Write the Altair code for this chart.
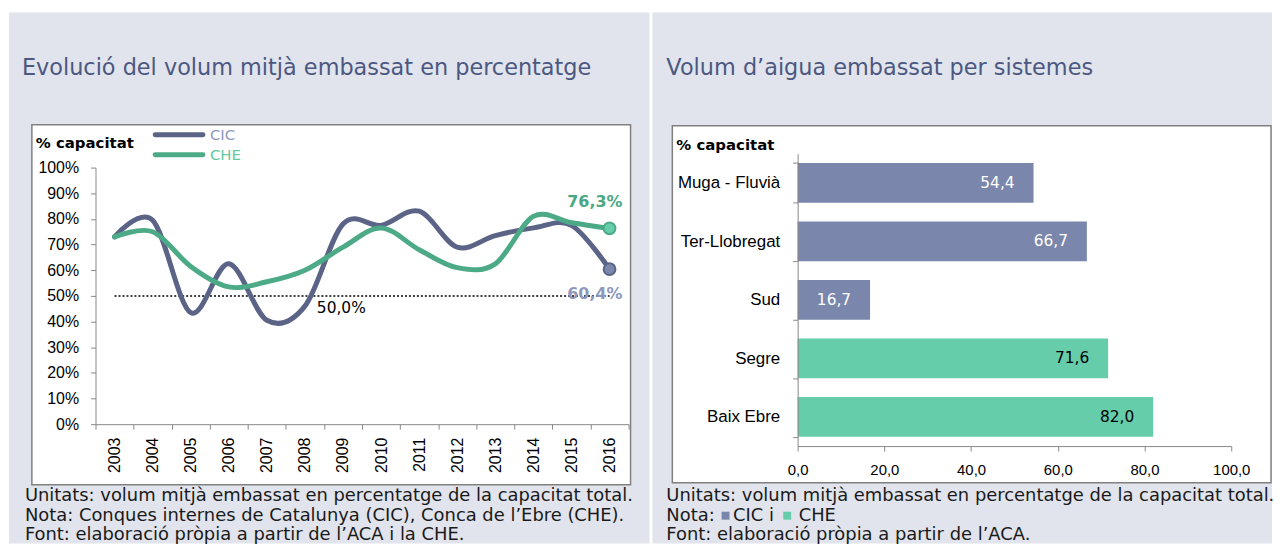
import altair as alt
import pandas as pd

# ---------------- data ----------------
years = [str(y) for y in range(2003, 2017)]
cic = [73, 79.5, 43.5, 62.5, 40.5, 46, 78, 77.5, 83, 69, 73.5, 76.5, 77.5, 60.4]
che = [73, 75, 61.5, 53.5, 55.5, 60, 69, 76.5, 68, 61, 62.5, 81, 78.5, 76.3]
series = ["CIC", "CHE"]
end_values = [60.4, 76.3]
end_labels = ["60,4%", "76,3%"]
ref_years = ["2003", "2016"]
ref_value = 50
ref_label = "50,0%"
y_ticks = list(range(0, 101, 10))

systems = ["Muga - Fluvià", "Ter-Llobregat", "Sud", "Segre", "Baix Ebre"]
sys_values = [54.4, 66.7, 16.7, 71.6, 82.0]
sys_group = ["CIC", "CIC", "CIC", "CHE", "CHE"]
sys_labels = ["54,4", "66,7", "16,7", "71,6", "82,0"]
x_ticks = [0, 20, 40, 60, 80, 100]

# ---------------- styles ----------------
FONT = "DejaVu Sans"
GREY_BG = "#e1e4ec"
BOX_STROKE = "#808080"
TITLE_C = "#4c5881"
CIC_LINE = "#5b6486"
CHE_LINE = "#4caa87"
CIC_BAR = "#7a86ab"
CHE_BAR = "#66cdaa"
AXIS_C = "#868686"
NOTE_C = "#1a1a1a"

one = pd.DataFrame({"k": [0]})


def rect(x1, x2, y1, y2, fill, stroke=None, sw=0):
    kw = dict(fill=fill)
    if stroke:
        kw.update(stroke=stroke, strokeWidth=sw)
    return alt.Chart(one).mark_rect(**kw).encode(
        x=alt.value(x1), x2=alt.value(x2), y=alt.value(y1), y2=alt.value(y2))


def txt(s, x, y, size, color="#000000", weight="normal", align="left",
        baseline="alphabetic"):
    return alt.Chart(one).mark_text(
        text=s, fontSize=size, color=color, fontWeight=weight, align=align,
        baseline=baseline, font=FONT).encode(x=alt.value(x), y=alt.value(y))


# both panels share the same plot origin (page y = 152)
NOTE_Y = [349, 369, 388]
BOTTOM = 392

# ---------------- left panel ----------------
W1, H1 = 536, 272
line_df = pd.DataFrame({"year": years * 2, "value": cic + che,
                        "series": ["CIC"] * len(years) + ["CHE"] * len(years)})
end_df = pd.DataFrame({"year": ["2016", "2016"], "value": end_values,
                       "series": series, "label": end_labels})
ref_df = pd.DataFrame({"year": ref_years, "value": [ref_value] * 2})
ref_lab_df = pd.DataFrame({"year": ["2008"], "value": [ref_value], "label": [ref_label]})

x1 = alt.X("year:O", scale=alt.Scale(type="band", domain=years, paddingInner=0, paddingOuter=0),
           axis=alt.Axis(title=None, labelAngle=-90, tickBand="extent", tickSize=5,
                         labelPadding=8, labelFontSize=16, grid=False, zindex=1))
y1 = alt.Y("value:Q", scale=alt.Scale(domain=[0, 100], range=[H1, 14]),
           axis=alt.Axis(title=None, values=y_ticks, labelExpr="datum.value + '%'",
                         tickSize=5, labelPadding=12, labelFontSize=16, labelFlush=False,
                         grid=False, zindex=1))

left_layers = [
    rect(-87, W1 + 21, -142, BOTTOM, GREY_BG),
    rect(-64, W1 + 2, -29, 333, "#ffffff", BOX_STROKE, 1.5),
    alt.Chart(ref_df).mark_line(color="#000000", strokeWidth=1.5, strokeDash=[2, 2]).encode(x=x1, y=y1),
    alt.Chart(ref_lab_df).mark_text(align="left", baseline="middle", dx=12, dy=12, fontSize=15.5,
                                    font=FONT, color="#000000").encode(x=x1, y=y1, text="label:N"),
    alt.Chart(line_df).transform_filter(alt.datum.series == "CIC").mark_line(
        color=CIC_LINE, strokeWidth=5, interpolate="cardinal", tension=0, strokeCap="round",
        strokeJoin="round").encode(x=x1, y=y1),
    alt.Chart(line_df).transform_filter(alt.datum.series == "CHE").mark_line(
        color=CHE_LINE, strokeWidth=5, interpolate="cardinal", tension=0, strokeCap="round",
        strokeJoin="round").encode(x=x1, y=y1),
    alt.Chart(end_df).transform_filter(alt.datum.series == "CIC").mark_point(
        filled=True, size=140, color=CIC_BAR, stroke=CIC_LINE, strokeWidth=2, opacity=1).encode(x=x1, y=y1),
    alt.Chart(end_df).transform_filter(alt.datum.series == "CHE").mark_point(
        filled=True, size=140, color=CHE_BAR, stroke=CHE_LINE, strokeWidth=2, opacity=1).encode(x=x1, y=y1),
    alt.Chart(end_df).transform_filter(alt.datum.series == "CIC").mark_text(
        align="right", baseline="middle", dx=13, dy=25, fontSize=16, fontWeight="bold",
        font=FONT, color="#8e98bc").encode(x=x1, y=y1, text="label:N"),
    alt.Chart(end_df).transform_filter(alt.datum.series == "CHE").mark_text(
        align="right", baseline="middle", dx=13, dy=-27, fontSize=16, fontWeight="bold",
        font=FONT, color="#4aa884").encode(x=x1, y=y1, text="label:N"),
    # legend
    alt.Chart(one).mark_rule(color=CIC_LINE, strokeWidth=5, strokeCap="round").encode(
        x=alt.value(60), x2=alt.value(108), y=alt.value(-19)),
    alt.Chart(one).mark_rule(color=CHE_LINE, strokeWidth=5, strokeCap="round").encode(
        x=alt.value(60), x2=alt.value(108), y=alt.value(1)),
    txt("CIC", 115, -19, 15, "#8e98bc", baseline="middle"),
    txt("CHE", 115, 1, 15, "#5fc9a0", baseline="middle"),
    txt("% capacitat", -60, -11, 15, weight="bold", baseline="middle"),
    txt("Evolució del volum mitjà embassat en percentatge", -74, -79, 22.5, TITLE_C),
    txt("Unitats: volum mitjà embassat en percentatge de la capacitat total.", -71, NOTE_Y[0], 18, NOTE_C),
    txt("Nota: Conques internes de Catalunya (CIC), Conca de l’Ebre (CHE).", -71, NOTE_Y[1], 18, NOTE_C),
    txt("Font: elaboració pròpia a partir de l’ACA i la CHE.", -71, NOTE_Y[2], 18, NOTE_C),
]
left = alt.layer(*left_layers).properties(width=W1, height=H1)

# ---------------- right panel ----------------
W2, H2 = 436, 294
bar_df = pd.DataFrame({"system": systems, "value": sys_values, "group": sys_group,
                       "label": sys_labels})

y2 = alt.Y("system:N", sort=systems,
           scale=alt.Scale(domain=systems, paddingInner=0.32, paddingOuter=0.16),
           axis=alt.Axis(title=None, tickBand="extent", tickSize=5, labelPadding=13,
                         labelFontSize=17, labelLimit=300, zindex=1))
x2 = alt.X("value:Q", scale=alt.Scale(domain=[0, 100]),
           axis=alt.Axis(title=None, values=x_ticks, grid=False, tickSize=5, labelPadding=12,
                         labelFontSize=15, labelFlush=False,
                         labelExpr="replace(format(datum.value, '.1f'), '.', ',')", zindex=1))

right_layers = [
    rect(-146, W2 + 41, -142, BOTTOM, GREY_BG),
    rect(-126, W2 + 40, -28, 331, "#ffffff", BOX_STROKE, 1.5),
    alt.Chart(bar_df).mark_bar().encode(
        x=x2, y=y2,
        color=alt.Color("group:N", scale=alt.Scale(domain=series, range=[CIC_BAR, CHE_BAR]),
                        legend=None)),
    alt.Chart(bar_df).transform_filter(alt.datum.group == "CIC").mark_text(
        align="right", baseline="middle", dx=-19, fontSize=15.5, font=FONT,
        color="#ffffff").encode(x=x2, y=y2, text="label:N"),
    alt.Chart(bar_df).transform_filter(alt.datum.group == "CHE").mark_text(
        align="right", baseline="middle", dx=-19, fontSize=15.5, font=FONT,
        color="#000000").encode(x=x2, y=y2, text="label:N"),
    txt("% capacitat", -122, -9, 15, weight="bold", baseline="middle"),
    txt("Volum d’aigua embassat per sistemes", -132, -79, 22.5, TITLE_C),
    txt("Unitats: volum mitjà embassat en percentatge de la capacitat total.", -132, NOTE_Y[0], 18, NOTE_C),
    txt("Nota:", -132, NOTE_Y[1], 18, NOTE_C),
    alt.Chart(one).mark_square(size=64, color=CIC_BAR, opacity=1).encode(
        x=alt.value(-72.5), y=alt.value(NOTE_Y[1] - 5)),
    txt("CIC i", -65, NOTE_Y[1], 18, NOTE_C),
    alt.Chart(one).mark_square(size=64, color=CHE_BAR, opacity=1).encode(
        x=alt.value(-10.5), y=alt.value(NOTE_Y[1] - 5)),
    txt("CHE", 1, NOTE_Y[1], 18, NOTE_C),
    txt("Font: elaboració pròpia a partir de l’ACA.", -132, NOTE_Y[2], 18, NOTE_C),
]
right = alt.layer(*right_layers).properties(width=W2, height=H2)

chart = alt.hconcat(left, right, spacing=1).properties(
    padding={"left": 0, "top": 2, "right": 0, "bottom": 0}
).configure_view(strokeWidth=0).configure_axis(
    labelFont=FONT, labelColor="#000000", domainColor=AXIS_C, tickColor=AXIS_C,
    domainWidth=1.5, tickWidth=1.5
).configure(background="#ffffff")

chart.save("out.html", embed_options={"renderer": "svg", "actions": False})
